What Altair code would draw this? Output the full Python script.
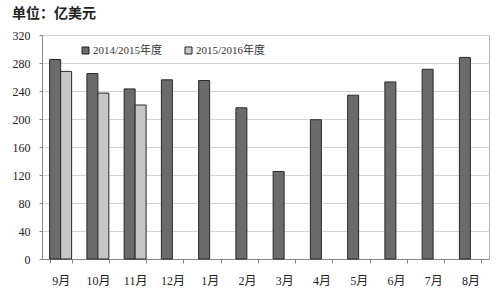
import altair as alt
import pandas as pd

months = ["9月", "10月", "11月", "12月", "1月", "2月", "3月", "4月", "5月", "6月", "7月", "8月"]
series_a_name = "2014/2015年度"
series_b_name = "2015/2016年度"
series_a = [285, 265, 243, 256, 255, 216, 125, 199, 234, 253, 271, 288]
series_b = [268, 237, 220]

rows = []
for m, v in zip(months, series_a):
    rows.append({"month": m, "series": series_a_name, "value": v})
for m, v in zip(months, series_b):
    rows.append({"month": m, "series": series_b_name, "value": v})
df = pd.DataFrame(rows)

FONT = "Liberation Serif, Noto Sans CJK SC"

chart = alt.Chart(df).mark_bar(stroke="#2a2a2a", strokeWidth=1).encode(
    x=alt.X("month:N", sort=months, title=None,
            scale=alt.Scale(paddingInner=0.41, paddingOuter=0.205),
            axis=alt.Axis(labelAngle=0, tickBand="extent", tickSize=4,
                          labelPadding=12, labelFontSize=12, labelFont=FONT,
                          labelColor="#222222", domainColor="#888888",
                          tickColor="#888888", grid=False)),
    xOffset=alt.XOffset("series:N", scale=alt.Scale(domain=[series_a_name, series_b_name])),
    y=alt.Y("value:Q", title=None,
            scale=alt.Scale(domain=[0, 320], nice=False),
            axis=alt.Axis(values=list(range(0, 321, 40)), tickSize=3,
                          labelPadding=9, labelFontSize=12, labelFont=FONT,
                          labelColor="#222222", domainColor="#888888",
                          tickColor="#888888", gridColor="#d4d4d4")),
    color=alt.Color("series:N",
                    scale=alt.Scale(domain=[series_a_name, series_b_name],
                                    range=["#6b6b6b", "#c6c6c6"]),
                    legend=alt.Legend(title=None, orient="none", direction="horizontal",
                                      legendX=38, legendY=10, symbolType="square",
                                      symbolSize=49, symbolStrokeColor="#222222",
                                      symbolStrokeWidth=1, labelFont=FONT,
                                      labelFontSize=11, labelColor="#333333",
                                      columnPadding=20, labelOffset=2)),
).properties(
    width=447, height=224,
    title=alt.TitleParams("单位：亿美元", anchor="start", dx=0, offset=8,
                          font="Noto Sans CJK SC", fontSize=14, fontWeight="bold",
                          color="#222222"),
    autosize=alt.AutoSizeParams(type="none"),
    padding={"left": 42, "top": 35, "right": 11, "bottom": 35},
).configure_view(stroke="#b0b0b0", strokeWidth=1)

chart.save("out.html", embed_options={"renderer": "svg", "actions": False})
